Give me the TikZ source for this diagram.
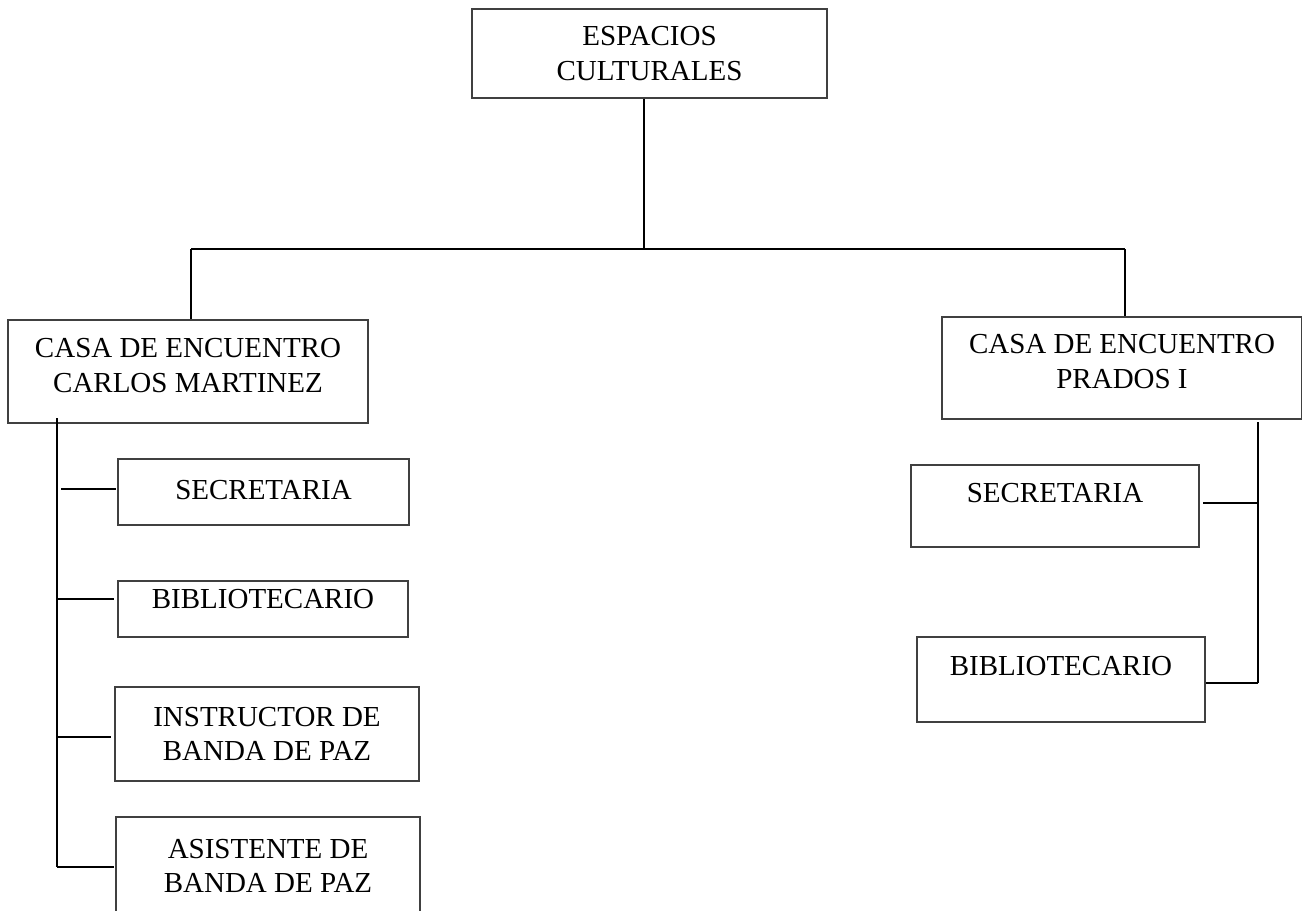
\documentclass[tikz,border=0pt]{standalone}
\usepackage{fontspec}
\setmainfont{Liberation Serif}
\usepackage{tikz}
\usetikzlibrary{positioning}

\begin{document}
\begin{tikzpicture}[
  x=0.02cm, y=-0.02cm,
  box/.style={rectangle, draw=black!75, line width=0.7pt, inner sep=0pt, align=center, font=\fontsize{16.5}{19.5}\selectfont},
  lift/.style={text depth=#1},
  conn/.style={draw=black, line width=1pt},
]
\useasboundingbox (0,0) rectangle (1302,910);

\node[box, minimum width=7.1cm, minimum height=1.78cm] (espacios) at (649.5,53.5) {ESPACIOS\\CULTURALES};
\node[box, minimum width=7.2cm, minimum height=2.06cm, lift=0.24cm] (carlos) at (188,371.5) {CASA DE ENCUENTRO\\CARLOS MARTINEZ};
\node[box, minimum width=7.2cm, minimum height=2.04cm, lift=0.26cm] (prados) at (1122,368) {CASA DE ENCUENTRO\\PRADOS I};

\node[box, minimum width=5.82cm, minimum height=1.32cm, lift=0.08cm] (secL) at (263.5,492) {SECRETARIA};
\node[box, minimum width=5.8cm, minimum height=1.12cm, lift=0.4cm] (bibL) at (263,609) {BIBLIOTECARIO};
\node[box, minimum width=6.08cm, minimum height=1.88cm] (instr) at (267,734) {INSTRUCTOR DE\\BANDA DE PAZ};
\node[box, minimum width=6.08cm, minimum height=1.96cm] (asist) at (268,866) {ASISTENTE DE\\BANDA DE PAZ};

\node[box, minimum width=5.76cm, minimum height=1.64cm, lift=0.52cm] (secR) at (1055,506) {SECRETARIA};
\node[box, minimum width=5.76cm, minimum height=1.7cm, lift=0.56cm] (bibR) at (1061,679.5) {BIBLIOTECARIO};

\coordinate (hub) at (644,249);
\coordinate (busL) at (191,249);
\coordinate (busR) at (1125,249);
\coordinate (trunkL) at (57,418);
\coordinate (trunkR) at (1258,422);
\coordinate (jSecL) at (61,489);
\coordinate (jBibL) at (57,599);
\coordinate (jInstr) at (57,737);
\coordinate (jAsist) at (57,867);
\coordinate (jSecR) at (1258,503);
\coordinate (jBibR) at (1258,683);

\draw[conn] (espacios.south -| hub) -- (hub);
\draw[conn] (busL) -- (busR);
\draw[conn] (busL) -- (busL |- carlos.north);
\draw[conn] (busR) -- (busR |- prados.north);

\draw[conn] (trunkL) -- (jAsist);
\draw[conn] (jSecL) -- ([xshift=-1pt]jSecL -| secL.west);
\draw[conn] (jBibL) -- ([xshift=-2pt]jBibL -| bibL.west);
\draw[conn] (jInstr) -- ([xshift=-2pt]jInstr -| instr.west);
\draw[conn] (jAsist) -- ([xshift=-1pt]jAsist -| asist.west);

\draw[conn] (trunkR) -- (jBibR);
\draw[conn] (jSecR) -- ([xshift=2pt]jSecR -| secR.east);
\draw[conn] (jBibR) -- (jBibR -| bibR.east);
\end{tikzpicture}
\end{document}
